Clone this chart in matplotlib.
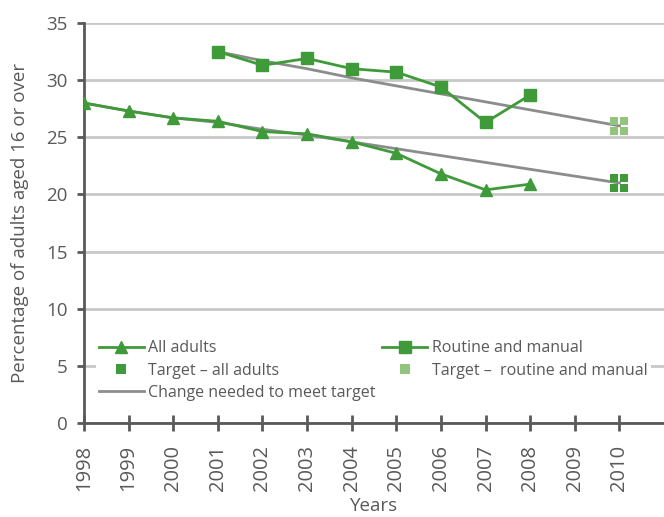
import matplotlib
matplotlib.use("Agg")
import matplotlib.pyplot as plt
from matplotlib.lines import Line2D
from matplotlib.path import Path

plt.rcParams['font.family'] = ['Open Sans', 'DejaVu Sans']

# data
years = [1998, 1999, 2000, 2001, 2002, 2003, 2004, 2005, 2006, 2007, 2008]
all_adults = [28.0, 27.3, 26.7, 26.4, 25.5, 25.3, 24.6, 23.6, 21.8, 20.4, 20.9]

rm_years = [2001, 2002, 2003, 2004, 2005, 2006, 2007, 2008]
routine_manual = [32.5, 31.3, 31.9, 31.0, 30.7, 29.4, 26.3, 28.7]

target_year = 2010
target_all = 21.0
target_rm = 26.0

change_all_years = [1998, 1999, 2000, 2001, 2002, 2003, 2004, 2005, 2006, 2007, 2008, 2009, 2010]
change_all = [28.0, 27.3, 26.7, 26.3, 25.7, 25.2, 24.6, 24.0, 23.4, 22.8, 22.2, 21.6, 21.0]
change_rm_years = [2001, 2002, 2003, 2004, 2005, 2006, 2007, 2008, 2009, 2010]
change_rm = [32.5, 31.7, 31.0, 30.2, 29.5, 28.8, 28.1, 27.4, 26.7, 26.0]

tick_years = list(range(1998, 2011))

green = '#3f9a3a'
light_green = '#93c47d'
grey_line = '#8c8c8c'
text_col = '#595959'

# square split by a white cross: four small squares
verts, codes = [], []
g = 0.1
for x0, x1 in [(-1, -g), (g, 1)]:
    for y0, y1 in [(-1, -g), (g, 1)]:
        verts += [(x0, y0), (x1, y0), (x1, y1), (x0, y1), (x0, y0)]
        codes += [Path.MOVETO, Path.LINETO, Path.LINETO, Path.LINETO, Path.CLOSEPOLY]
target_marker = Path(verts, codes)

fig = plt.figure(figsize=(6.64, 5.17), dpi=100)
ax = fig.add_axes([84 / 664, 94 / 517, 580 / 664, 400 / 517])

ax.plot(change_all_years, change_all, color=grey_line, lw=2, zorder=2)
ax.plot(change_rm_years, change_rm, color=grey_line, lw=2, zorder=2)
ax.plot(years, all_adults, color=green, lw=2, marker='^', ms=9, zorder=3)
ax.plot(rm_years, routine_manual, color=green, lw=2, marker='s', ms=8, zorder=3)

ax.plot([target_year], [target_all], marker=target_marker, ms=13, mew=0, color=green, ls='none', zorder=4)
ax.plot([target_year], [target_rm], marker=target_marker, ms=13, mew=0, color=light_green, ls='none', zorder=4)

ax.set_xlim(1998, 2011)
ax.set_ylim(0, 35)
ax.set_yticks(range(0, 36, 5))
ax.set_xticks(tick_years)
ax.set_xticklabels([str(y) for y in tick_years], rotation=90)
ax.yaxis.grid(True, color='#c8c8c8', lw=2)
ax.set_axisbelow(True)

for side in ['top', 'right']:
    ax.spines[side].set_visible(False)
for side in ['left', 'bottom']:
    ax.spines[side].set_color(text_col)
    ax.spines[side].set_linewidth(2)
ax.tick_params(axis='x', direction='inout', length=12, width=2, color=text_col,
               labelcolor=text_col, labelsize=14.5, pad=10)
ax.tick_params(axis='y', direction='out', length=5, width=2, color=text_col,
               labelcolor=text_col, labelsize=13.5, pad=7)
ax.set_xlabel('Years', color=text_col, fontsize=13.5, labelpad=4)
ax.set_ylabel('Percentage of adults aged 16 or over', color=text_col, fontsize=13.5, labelpad=12)

h_all = Line2D([], [], color=green, lw=2, marker='^', ms=9)
h_rm = Line2D([], [], color=green, lw=2, marker='s', ms=8)
h_t_all = Line2D([], [], color=green, marker=target_marker, ms=7, mew=0, ls='none')
h_t_rm = Line2D([], [], color=light_green, marker=target_marker, ms=7, mew=0, ls='none')
h_change = Line2D([], [], color=grey_line, lw=2)

leg = ax.legend([h_all, h_t_all, h_change, h_rm, h_t_rm],
                ['All adults', 'Target – all adults', 'Change needed to meet target',
                 'Routine and manual', 'Target –  routine and manual'],
                ncol=2, loc='upper left', bbox_to_anchor=(0.02, 0.215),
                frameon=True, facecolor='white', edgecolor='none', framealpha=1,
                fontsize=11.5, handlelength=2.8, handletextpad=0.3,
                columnspacing=0.4, labelspacing=0.4, borderpad=0.2, borderaxespad=0)
for t in leg.get_texts():
    t.set_color(text_col)

fig.savefig('out.png', dpi=100)
